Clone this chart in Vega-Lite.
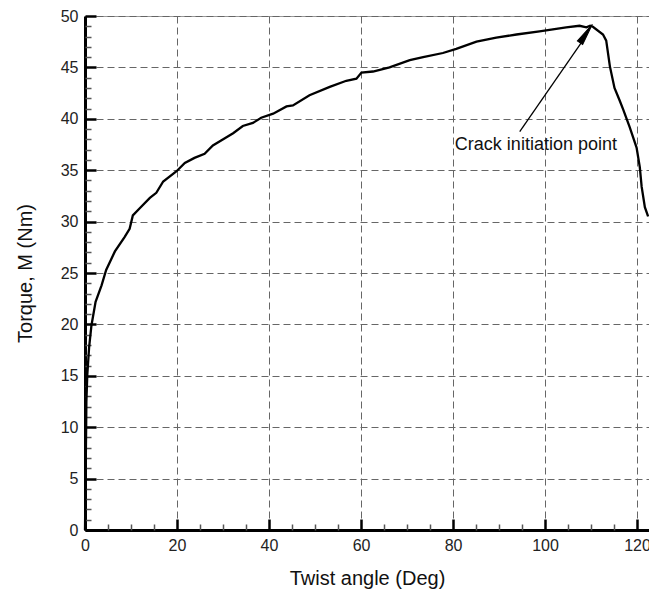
{
  "$schema": "https://vega.github.io/schema/vega-lite/v6.json",
  "width": 564,
  "height": 514,
  "autosize": "none",
  "padding": {"left": 85, "top": 16, "right": 0, "bottom": 62},
  "config": {
    "view": {"stroke": "#999999", "strokeWidth": 1},
    "font": "Liberation Sans"
  },
  "layer": [
    {
      "data": {"values": [
        {"angle": 0, "torque": 0},
        {"angle": 0.05, "torque": 2},
        {"angle": 0.1, "torque": 4},
        {"angle": 0.15, "torque": 6},
        {"angle": 0.2, "torque": 8},
        {"angle": 0.25, "torque": 10},
        {"angle": 0.3, "torque": 12.5},
        {"angle": 0.5, "torque": 15.1},
        {"angle": 0.9, "torque": 17.8},
        {"angle": 1.4, "torque": 19.9},
        {"angle": 2.3, "torque": 22.2},
        {"angle": 3.6, "torque": 23.8},
        {"angle": 4.6, "torque": 25.3},
        {"angle": 6.5, "torque": 27.1},
        {"angle": 8.6, "torque": 28.5},
        {"angle": 9.7, "torque": 29.3},
        {"angle": 10.4, "torque": 30.6},
        {"angle": 11.9, "torque": 31.3},
        {"angle": 14.1, "torque": 32.3},
        {"angle": 15.5, "torque": 32.8},
        {"angle": 17.0, "torque": 33.9},
        {"angle": 19.9, "torque": 34.9},
        {"angle": 21.7, "torque": 35.7},
        {"angle": 23.8, "torque": 36.2},
        {"angle": 26.0, "torque": 36.6},
        {"angle": 27.8, "torque": 37.4},
        {"angle": 30.4, "torque": 38.1},
        {"angle": 32.2, "torque": 38.6},
        {"angle": 34.3, "torque": 39.3},
        {"angle": 36.5, "torque": 39.6},
        {"angle": 38.3, "torque": 40.1},
        {"angle": 40.9, "torque": 40.5},
        {"angle": 43.8, "torque": 41.2},
        {"angle": 45.2, "torque": 41.3},
        {"angle": 48.8, "torque": 42.3},
        {"angle": 53.2, "torque": 43.1},
        {"angle": 56.8, "torque": 43.7},
        {"angle": 59.0, "torque": 43.9},
        {"angle": 60.1, "torque": 44.5},
        {"angle": 62.6, "torque": 44.6},
        {"angle": 66.2, "torque": 45.0},
        {"angle": 70.6, "torque": 45.7},
        {"angle": 73.5, "torque": 46.0},
        {"angle": 77.8, "torque": 46.4},
        {"angle": 80.7, "torque": 46.8},
        {"angle": 85.1, "torque": 47.5},
        {"angle": 89.4, "torque": 47.9},
        {"angle": 93.8, "torque": 48.2},
        {"angle": 98.8, "torque": 48.5},
        {"angle": 101.7, "torque": 48.7},
        {"angle": 104.6, "torque": 48.9},
        {"angle": 107.5, "torque": 49.05},
        {"angle": 109.0, "torque": 48.9},
        {"angle": 109.8, "torque": 49.05},
        {"angle": 110.4, "torque": 48.95},
        {"angle": 112.6, "torque": 48.2},
        {"angle": 113.3, "torque": 47.6},
        {"angle": 114.1, "torque": 45.1},
        {"angle": 115.1, "torque": 43.0},
        {"angle": 116.2, "torque": 41.8},
        {"angle": 117.0, "torque": 40.9},
        {"angle": 118.4, "torque": 39.2},
        {"angle": 119.9, "torque": 37.2},
        {"angle": 120.6, "torque": 35.3},
        {"angle": 121.0, "torque": 33.4},
        {"angle": 121.7, "torque": 31.4},
        {"angle": 122.4, "torque": 30.5}
      ]},
      "mark": {"type": "line", "color": "#000000", "strokeWidth": 2.3},
      "encoding": {
        "x": {
          "field": "angle", "type": "quantitative",
          "scale": {"domain": [0, 122.6], "nice": false, "zero": false},
          "axis": {
            "orient": "bottom",
            "values": [0, 20, 40, 60, 80, 100, 120],
            "title": "Twist angle (Deg)",
            "titleFontSize": 20, "titleFontWeight": "normal", "titleColor": "#111111",
            "titleX": 282, "titleY": 54, "titleBaseline": "alphabetic", "titleAlign": "center",
            "labelFontSize": 16, "labelColor": "#222222", "labelFlush": false, "labelPadding": 18,
            "tickSize": -11, "tickWidth": 2.5, "tickColor": "#000000",
            "domainColor": "#000000", "domainWidth": 3,
            "grid": true, "gridColor": "#666666", "gridDash": [7, 4], "gridWidth": 1
          }
        },
        "y": {
          "field": "torque", "type": "quantitative",
          "scale": {"domain": [0, 50], "nice": false},
          "axis": {
            "orient": "left",
            "values": [0, 5, 10, 15, 20, 25, 30, 35, 40, 45, 50],
            "title": "Torque, M (Nm)",
            "titleFontSize": 20, "titleFontWeight": "normal", "titleColor": "#111111",
            "titleX": -54, "titleY": 257, "titleAngle": -90, "titleBaseline": "alphabetic", "titleAlign": "center",
            "labelFontSize": 16, "labelColor": "#222222", "labelFlush": false, "labelPadding": 18,
            "tickSize": -11, "tickWidth": 2.5, "tickColor": "#000000",
            "domainColor": "#000000", "domainWidth": 3,
            "grid": true, "gridColor": "#666666", "gridDash": [7, 4], "gridWidth": 1
          }
        }
      }
    },
    {
      "data": {"values": [{"angle": 80.4, "torque": 37.5, "label": "Crack initiation point"}]},
      "mark": {"type": "text", "align": "left", "baseline": "middle", "fontSize": 18, "color": "#111111"},
      "encoding": {
        "x": {
          "field": "angle", "type": "quantitative",
          "scale": {"domain": [0, 122.6], "nice": false, "zero": false},
          "axis": {
            "orient": "bottom",
            "values": [5, 10, 15, 25, 30, 35, 45, 50, 55, 65, 70, 75, 85, 90, 95, 105, 110, 115],
            "labels": false, "title": null, "grid": false, "domain": false,
            "tickSize": -6, "tickWidth": 1.5, "tickColor": "#555555"
          }
        },
        "y": {
          "field": "torque", "type": "quantitative",
          "scale": {"domain": [0, 50], "nice": false},
          "axis": {
            "orient": "left",
            "values": [1, 2, 3, 4, 6, 7, 8, 9, 11, 12, 13, 14, 16, 17, 18, 19, 21, 22, 23, 24, 26, 27, 28, 29, 31, 32, 33, 34, 36, 37, 38, 39, 41, 42, 43, 44, 46, 47, 48, 49],
            "labels": false, "title": null, "grid": false, "domain": false,
            "tickSize": -6, "tickWidth": 1.5, "tickColor": "#555555"
          }
        },
        "text": {"field": "label"}
      }
    },
    {
      "data": {"values": [{"x1": 94.5, "y1": 38.75, "x2": 108.5, "y2": 47.8}]},
      "mark": {"type": "rule", "color": "#000000", "strokeWidth": 1.3},
      "encoding": {
        "x": {"field": "x1", "type": "quantitative", "scale": {"domain": [0, 122.6], "nice": false, "zero": false}, "axis": null},
        "y": {"field": "y1", "type": "quantitative", "scale": {"domain": [0, 50], "nice": false}, "axis": null},
        "x2": {"field": "x2"},
        "y2": {"field": "y2"}
      }
    },
    {
      "data": {"values": [{"ax": 108.5, "ay": 48.0}]},
      "mark": {"type": "point", "filled": true, "fill": "#000000", "stroke": "#000000", "strokeWidth": 1, "opacity": 1, "fillOpacity": 1, "shape": "wedge", "size": 650, "angle": 34},
      "encoding": {
        "x": {"field": "ax", "type": "quantitative", "scale": {"domain": [0, 122.6], "nice": false, "zero": false}, "axis": null},
        "y": {"field": "ay", "type": "quantitative", "scale": {"domain": [0, 50], "nice": false}, "axis": null}
      }
    }
  ],
  "resolve": {"axis": {"x": "independent", "y": "independent"}}
}
